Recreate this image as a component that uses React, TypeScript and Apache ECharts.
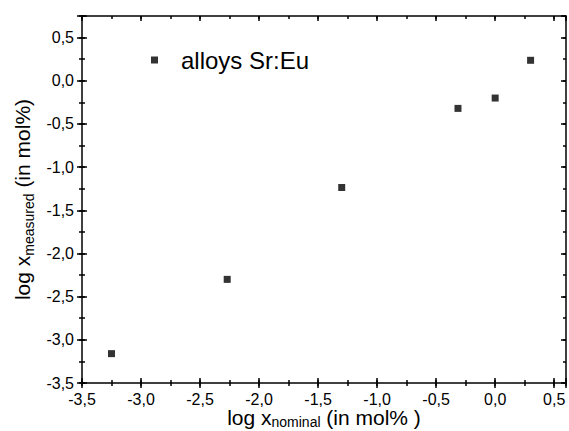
import React, { useEffect, useRef } from "react";
import * as echarts from "echarts";

// ---- data ----
const seriesName = "alloys Sr:Eu";
const xNominal = [-3.25, -2.27, -1.3, -0.315, 0.0, 0.3];
const yMeasured = [-3.16, -2.3, -1.236, -0.32, -0.2, 0.237];

const xTitleParts = ["log x", "nominal", " (in mol% )"];
const yTitleParts = ["log x", "measured", " (in mol%)"];

const XMIN = -3.5;
const XMAX = 0.6;
const YMIN = -3.5;
const YMAX = 0.75;
const MAJOR = 0.5;
const MINOR = 0.25;

const FONT = '"Liberation Sans", Arial, Helvetica, sans-serif';
const BLACK = "#000";

const fmt = (v: number) => {
  const k = v / MAJOR;
  return Math.abs(k - Math.round(k)) < 1e-6 ? v.toFixed(1).replace(".", ",") : "";
};

const lineStyle = { color: BLACK, width: 1.5 };

function axis(
  position: string,
  min: number,
  max: number,
  interval: number,
  inside: boolean,
  length: number,
  showLine: boolean,
  showLabel: boolean,
  extra: any = {}
) {
  return {
    type: "value",
    position,
    min,
    max,
    interval,
    axisLine: { show: showLine, onZero: false, lineStyle },
    axisTick: { show: true, inside, length, lineStyle },
    axisLabel: {
      show: showLabel,
      formatter: fmt,
      fontSize: 16,
      fontFamily: FONT,
      color: BLACK,
      margin: 8,
      showMinLabel: true,
      showMaxLabel: true,
    },
    splitLine: { show: false },
    ...extra,
  };
}

const xTitleRich = {
  n: { fontSize: 21, fontFamily: FONT, color: BLACK, lineHeight: 21, verticalAlign: "top" },
  s: { fontSize: 14, fontFamily: FONT, color: BLACK, lineHeight: 22, verticalAlign: "bottom" },
};
const yTitleRich = {
  n: { fontSize: 21, fontFamily: FONT, color: BLACK, lineHeight: 26 },
  s: { fontSize: 14, fontFamily: FONT, color: BLACK, lineHeight: 26, verticalAlign: "bottom" },
};

export default function App() {
  const ref = useRef<HTMLDivElement>(null);

  useEffect(() => {
    if (!ref.current) return;
    const chart = echarts.init(ref.current, undefined, { renderer: "svg" });
    const points = xNominal.map((x, i) => [x, yMeasured[i]]);

    const option: any = {
      animation: false,
      backgroundColor: "#fff",
      grid: {
        left: 82,
        right: 3,
        top: 16,
        bottom: 48,
        containLabel: false,
        outerBoundsMode: "none",
      },
      legend: {
        data: [seriesName],
        left: 151,
        top: 48,
        padding: 0,
        icon: "rect",
        itemWidth: 7,
        itemHeight: 7,
        textStyle: { fontSize: 24, fontFamily: FONT, color: BLACK, padding: [0, 0, 0, 18] },
      },
      xAxis: [
        axis("bottom", XMIN, XMAX, MAJOR, false, 5, true, true, {
          name: `{n|${xTitleParts[0]}}{s|${xTitleParts[1]}}{n|${xTitleParts[2]}}`,
          nameLocation: "middle",
          nameGap: 24,
          nameMoveOverlap: false,
          nameTextStyle: { rich: xTitleRich },
        }),
        axis("bottom", XMIN, XMAX, MAJOR, true, 5, false, false),
        axis("bottom", XMIN, XMAX, MINOR, false, 3, false, false),
        axis("bottom", XMIN, XMAX, MINOR, true, 3, false, false),
        axis("top", XMIN, XMAX, MAJOR, true, 5, true, false),
        axis("top", XMIN, XMAX, MINOR, true, 3, false, false),
      ],
      yAxis: [
        axis("left", YMIN, YMAX, MAJOR, false, 5, true, true, {
          name: `{n|${yTitleParts[0]}}{s|${yTitleParts[1]}}{n|${yTitleParts[2]}}`,
          nameLocation: "middle",
          nameGap: 36,
          nameTextStyle: { rich: yTitleRich },
        }),
        axis("left", YMIN, YMAX, MAJOR, true, 5, false, false),
        axis("left", YMIN, YMAX, MINOR, false, 3, false, false),
        axis("left", YMIN, YMAX, MINOR, true, 3, false, false),
        axis("right", YMIN, YMAX, MAJOR, true, 5, true, false),
        axis("right", YMIN, YMAX, MINOR, true, 3, false, false),
      ],
      series: [
        {
          name: seriesName,
          type: "scatter",
          xAxisIndex: 0,
          yAxisIndex: 0,
          symbol: "rect",
          symbolSize: 7,
          itemStyle: { color: BLACK },
          data: points,
        },
      ],
    };

    chart.setOption(option);
    return () => chart.dispose();
  }, []);

  return (
    <div
      ref={ref}
      style={{ position: "fixed", left: 0, top: 0, width: 569, height: 431, background: "#fff" }}
    />
  );
}
